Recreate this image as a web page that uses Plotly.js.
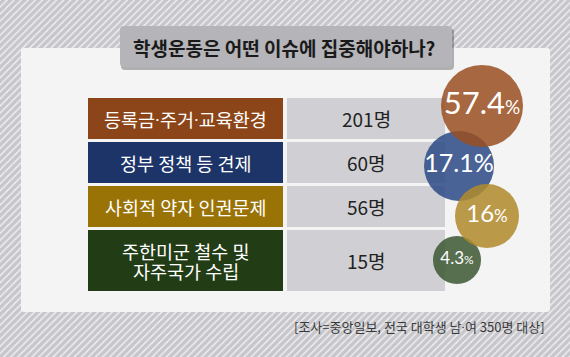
<!DOCTYPE html>
<html><head><meta charset="utf-8">
<script src="https://cdn.plot.ly/plotly-3.0.1.min.js"></script>
<style>html,body{margin:0;padding:0;background:#fff}#chart{width:570px;height:357px}</style>
</head><body><div id="chart"></div>
<script>
// ---- data ----
const titleText = '학생운동은 어떤 이슈에 집중해야하나?';
const categories = ['등록금·주거·교육환경', '정부 정책 등 견제', '사회적 약자 인권문제', '주한미군 철수 및<br>자주국가 수립'];
const counts = [201, 60, 56, 15];
const percents = [57.4, 17.1, 16, 4.3];
const countUnit = '명';
const sourceText = '[조사=중앙일보, 전국 대학생 남·여 350명 대상]';

// ---- style / layout constants ----
const W = 570, H = 357;
const labelColors = ['#8b4518', '#1d3468', '#9a7306', '#223d16'];
const bubbleColors = ['#9a4f22', '#2c4a86', '#b08a2c', '#3c5733'];
const bubbleDiam = [82, 70, 64, 48];
const numSize = [31, 25, 24, 17];
const pctSize = [19, 25, 17, 12];
const bubbleX = [482, 459, 487, 457];
const bubbleDy = [-12.5, 3.5, 9.5, -0.5];
const drawOrder = [1, 3, 0, 2];
const tableTop = 98, rowBase = 41, lineExtra = 20, rowGap = 3, labelLineGap = 20;
const labelX0 = 88, labelX1 = 283, valX0 = 287, valX1 = 445;
const KR = '"Noto Sans CJK KR", "Noto Sans", sans-serif';

// row geometry from labels
const rowH = [], rowC = [];
let cur = tableTop;
categories.forEach(c => {
  const h = rowBase + (c.split('<br>').length - 1) * lineExtra;
  rowH.push(h); rowC.push(cur + h / 2); cur += h + rowGap;
});

const traces = [];
// hatched background
traces.push({type: 'bar', orientation: 'v', x: [W / 2], y: [H], base: [0], width: [W],
  marker: {color: '#c9c9ce', line: {width: 0},
    pattern: {shape: '/', size: 5, solidity: 0.3, fgcolor: '#eeeef0', bgcolor: '#c6c6cb'}},
  hoverinfo: 'skip', showlegend: false});
// white panel
traces.push({type: 'bar', orientation: 'v', x: [(21 + 550) / 2], y: [312 - 48], base: [48], width: [550 - 21],
  marker: {color: '#f4f4f5', line: {width: 0}, cornerradius: 3}, hoverinfo: 'skip', showlegend: false});
// label column
traces.push({type: 'bar', orientation: 'h', y: rowC, x: categories.map(() => labelX1 - labelX0),
  base: labelX0, width: rowH, marker: {color: labelColors, line: {width: 0}}, hoverinfo: 'skip', showlegend: false});
// value column
traces.push({type: 'bar', orientation: 'h', y: rowC, x: counts.map(() => valX1 - valX0),
  base: valX0, width: rowH, marker: {color: '#d0d0d4', line: {width: 0}}, hoverinfo: 'skip', showlegend: false});
// bubbles
const o = drawOrder;
traces.push({type: 'scatter', mode: 'markers+text',
  x: o.map(i => bubbleX[i]), y: o.map(i => rowC[i] + bubbleDy[i]),
  text: o.map(i => percents[i] + '<span style="font-size:' + pctSize[i] + 'px">%</span>'),
  textposition: 'middle center',
  textfont: {family: 'Lato, sans-serif', color: '#ffffff', size: o.map(i => numSize[i])},
  marker: {size: o.map(i => bubbleDiam[i]), color: o.map(i => bubbleColors[i]), opacity: 0.86, line: {width: 0}},
  hoverinfo: 'skip', showlegend: false, cliponaxis: false});

function rrect(x0, y0, x1, y1, r) {
  return `M${x0 + r},${y0} L${x1 - r},${y0} Q${x1},${y0} ${x1},${y0 + r} L${x1},${y1 - r} Q${x1},${y1} ${x1 - r},${y1} L${x0 + r},${y1} Q${x0},${y1} ${x0},${y1 - r} L${x0},${y0 + r} Q${x0},${y0} ${x0 + r},${y0} Z`;
}
const tightDot = s => s.replace(/·/g, '<span style="font-family:Roboto">·</span>');

const annotations = [];
categories.forEach((c, i) => {
  const lines = c.split('<br>');
  lines.forEach((ln, k) => {
    annotations.push({x: (labelX0 + labelX1) / 2, y: rowC[i] + (k - (lines.length - 1) / 2) * labelLineGap,
      xref: 'x', yref: 'y', text: tightDot(ln), showarrow: false,
      font: {family: KR, size: 18.5, color: '#ffffff'}, xanchor: 'center', yanchor: 'middle'});
  });
  annotations.push({x: (valX0 + valX1) / 2, y: rowC[i], xref: 'x', yref: 'y', text: counts[i] + countUnit, showarrow: false,
    font: {family: KR, size: 19, color: '#222222'}, xanchor: 'center', yanchor: 'middle'});
});
annotations.push({x: 284, y: 47, xref: 'x', yref: 'y', text: titleText, showarrow: false,
  font: {family: KR, size: 19, color: '#1a1a1a', weight: 600}, xanchor: 'center', yanchor: 'middle'});
annotations.push({x: 547, y: 326, xref: 'x', yref: 'y', text: tightDot(sourceText), showarrow: false,
  font: {family: KR, size: 13, color: '#3a3a3a'}, xanchor: 'right', yanchor: 'middle'});

const layout = {
  width: W, height: H, margin: {l: 0, r: 0, t: 0, b: 0, pad: 0},
  paper_bgcolor: '#c9c9ce', plot_bgcolor: 'rgba(0,0,0,0)',
  barmode: 'overlay',
  xaxis: {range: [0, W], visible: false, fixedrange: true},
  yaxis: {range: [H, 0], visible: false, fixedrange: true},
  shapes: [
    {type: 'path', path: rrect(121, 28.5, 454, 70, 4), xref: 'x', yref: 'y', fillcolor: 'rgba(0,0,0,0.28)', line: {width: 0}},
    {type: 'path', path: rrect(120, 26, 452, 67, 4), xref: 'x', yref: 'y', fillcolor: '#b4b4b9', line: {width: 0}}
  ],
  annotations: annotations,
  showlegend: false
};
Plotly.newPlot('chart', traces, layout, {displayModeBar: false, staticPlot: true});
</script>
</body></html>
